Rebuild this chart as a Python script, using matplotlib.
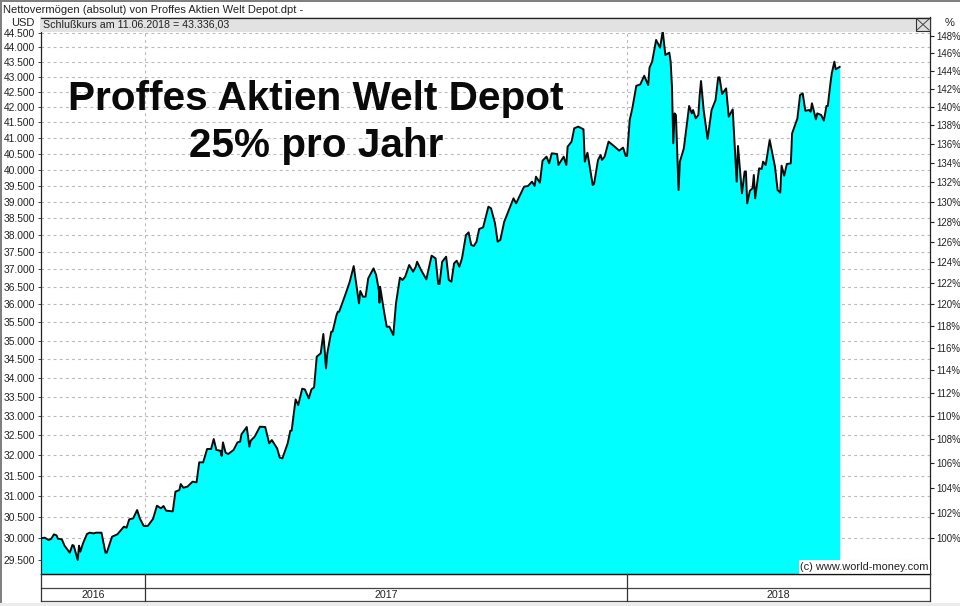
import matplotlib
matplotlib.use("Agg")
import matplotlib.pyplot as plt
from matplotlib.patches import Rectangle
from matplotlib.ticker import FixedLocator, NullLocator, FixedFormatter

plt.rcParams['font.family'] = ['Liberation Sans', 'DejaVu Sans']

# days relative to 1 Jan 2017
days = [-79,-76,-73,-71,-69,-67,-66,-63,-61,-57,-55,-54,-51,-50,-49,-47,-44,-42,-39,-37,-33,-30,-29,-25,-21,-16,-14,-12,-9,-6,-4,-1,
        2,6,9,12,14,16,21,23,26,27,29,32,36,39,41,44,47,50,52,54,57,58,59,61,63,67,70,72,73,77,79,80,83,87,91,94,96,100,102,104,108,110,111,114,116,119,121,124,126,128,
        130,133,135,136,137,138,141,142,145,146,147,152,155,158,162,163,165,167,169,171,173,175,177,177.5,178,181,183,185,188,190,193,195,197,
        200,203,205,206,209,213,217,220,222,223,225,228,230,232,234,236,238,240,243,245,247,249,251,253,256,260,262,265,267,269,272,279,281,287,290,293,295,296,299,
        301,304,306,308,312,313,317,319,320,323,325,328,332,333,335,339,340,343,345,346,348,351,355,359,362,364,
        365,367,369,372,375,378,381,382,384,387,390,392,394,397,398,399,400,401,402,404,405,408,412,414,415,417,419,420,421,423,426,429,432,434,435,437,440,442,445,448,449,452,454,455,456,458,460,461,462,465,467,468,470,473,477,479,481,482,484,486,489,490,494,496,498,500,503,504,505,508,509,512,514,516,517,519,520,522,523,526]
usd = [29992,30008,29953,29984,30086,30062,29984,29969,29821,29658,29837,29821,29489,29821,29682,29875,30094,30125,30109,30125,30125,29658,29658,30031,30086,30267,30242,30440,30464,30663,30464,30282,
       30282,30448,30767,30703,30759,30647,30631,31105,31145,31291,31202,31226,31349,31332,31826,31826,32159,32159,32410,32134,32117,31984,32326,32066,32033,32134,32326,32343,32529,32716,32217,32368,32470,32724,32716,32301,32385,32175,31942,31925,32301,32622,32622,33429,33282,33709,33691,33456,33691,33745,
       34562,34652,35180,34743,34248,34652,35245,35245,35705,35798,35798,36313,36645,37096,36032,36381,36220,36220,36741,36885,37029,36837,36410,36051,36503,35798,35381,35381,35151,36032,36761,36694,36790,
       37127,36934,37077,37222,36981,36713,37398,37320,36580,36580,37222,37369,36694,36645,37174,37251,37077,37320,38006,38085,37711,37682,37809,38184,38234,38856,38805,38354,37809,37859,38404,39110,38957,39468,39489,39623,39489,39778,39592,
       40278,40404,40194,40509,40488,40142,40404,40142,40721,40880,41308,41362,41276,40247,40528,39519,39550,40299,40456,40299,40404,40880,40742,40594,40689,40425,
       40425,41576,41957,42702,42747,43038,42725,43311,43515,44258,43993,44570,43742,43821,43515,42669,40827,41793,41739,39365,40247,40667,42034,41793,41901,41630,41739,42396,42862,41901,40965,41901,42230,42984,42984,42429,42616,41685,41924,39623,40742,39263,39934,39934,38957,39344,39416,39830,39110,40038,40017,40247,40142,40933,40090,39365,39283,40121,39809,40173,40194,41147,41630,42396,42451,41879,41901,41847,42122,41598,41793,41739,41555,42034,42034,42780,43115,43515,43255,43336]

usd_ticks = [29500,30000,30500,31000,31500,32000,32500,33000,33500,34000,34500,35000,35500,36000,36500,37000,37500,38000,38500,39000,39500,40000,40500,41000,41500,42000,42500,43000,43500,44000,44500]
usd_labels = ["29.500","30.000","30.500","31.000","31.500","32.000","32.500","33.000","33.500","34.000","34.500","35.000","35.500","36.000","36.500","37.000","37.500","38.000","38.500","39.000","39.500","40.000","40.500","41.000","41.500","42.000","42.500","43.000","43.500","44.000","44.500"]
pct_ticks = [100,102,104,106,108,110,112,114,116,118,120,122,124,126,128,130,132,134,136,138,140,142,144,146,148]
pct_labels = ["100%","102%","104%","106%","108%","110%","112%","114%","116%","118%","120%","122%","124%","126%","128%","130%","132%","134%","136%","138%","140%","142%","144%","146%","148%"]
year_breaks = [0, 365]
years = ["2016", "2017", "2018"]
base_usd = 30000
close_label = "Schlußkurs am 11.06.2018 = 43.336,03"
top_label = "Nettovermögen (absolut) von Proffes Aktien Welt Depot.dpt -"

W, H = 960, 606
fig = plt.figure(figsize=(W/100, H/100), dpi=100, facecolor='white')

def rect(l, t, r, b):
    return [l/W, 1-b/H, (r-l)/W, (b-t)/H]

ax = fig.add_axes(rect(41, 17, 930, 574), zorder=1)
ax.set_yscale('log')
ax.set_xlim(-78.8, 594.4)
y0, y1 = 29169, 45058
ax.set_ylim(y0, y1)
ax.fill_between(days, usd, y0, color='#00ffff', lw=0, zorder=2)
ax.plot(days, usd, color='#0a0a0a', lw=1.4, zorder=3, solid_joinstyle='round')
ax.yaxis.set_major_locator(FixedLocator(usd_ticks))
ax.yaxis.set_major_formatter(FixedFormatter(usd_labels))
ax.yaxis.set_minor_locator(NullLocator())
ax.xaxis.set_major_locator(FixedLocator(year_breaks))
ax.xaxis.set_ticklabels([])
ax.tick_params(axis='x', length=0)
ax.tick_params(axis='y', which='major', length=2, width=0.7, pad=2.5, labelsize=7.4, labelcolor='#222222', color='#444444')
ax.grid(True, axis='both', color='#b8b8c0', lw=0.8, dashes=(2.5, 3), zorder=1)
ax.set_axisbelow(True)
for s in ax.spines.values():
    s.set_linewidth(0.9)
    s.set_color('#222222')
ax.spines['top'].set_visible(False)

axr = ax.twinx()
axr.set_yscale('log')
axr.set_ylim(y0/base_usd*100, y1/base_usd*100)
axr.yaxis.set_major_locator(FixedLocator(pct_ticks))
axr.yaxis.set_major_formatter(FixedFormatter(pct_labels))
axr.yaxis.set_minor_locator(NullLocator())
axr.tick_params(axis='y', which='major', length=3, width=0.8, pad=1.2, labelsize=6.9, labelcolor='#222222', color='#222222')
for s in axr.spines.values():
    s.set_visible(False)

# window chrome, in figure pixels
ov = fig.add_axes([0, 0, 1, 1], zorder=5)
ov.set_xlim(0, W); ov.set_ylim(H, 0); ov.axis('off')
ov.add_patch(Rectangle((0, 0), W, 2, color='#808080', lw=0))
ov.add_patch(Rectangle((0, 0), 2, 603, color='#808080', lw=0))
ov.add_patch(Rectangle((0, 603), W, 3, color='#ececec', lw=0))
ov.add_patch(Rectangle((41, 17), 889, 14.5, facecolor='#e2e2e2', edgecolor='none'))
ov.plot([41, 930], [17.5, 17.5], color='#222222', lw=0.9)
ov.add_patch(Rectangle((916, 18), 14, 12.5, facecolor='#dddddd', edgecolor='#333333', lw=0.8))
ov.plot([917, 929], [19, 30], color='#444444', lw=0.7)
ov.plot([917, 929], [30, 19], color='#444444', lw=0.7)

ov.text(3, 10, top_label, fontsize=8.0, va='center', ha='left', color='#222222')
ov.text(43, 24.5, close_label, fontsize=7.65, va='center', ha='left', color='#222222')
ov.text(35, 23.5, "USD", fontsize=8, va='center', ha='right', color='#222222')
ov.text(945, 23.5, "%", fontsize=8, va='center', ha='left', color='#222222')

ov.text(316, 99.5, "Proffes Aktien Welt Depot", fontsize=29.2, fontweight='bold', ha='center', va='center', color='#0a0a0a')
ov.text(316, 146, "25% pro Jahr", fontsize=29.2, fontweight='bold', ha='center', va='center', color='#0a0a0a')

ov.add_patch(Rectangle((799, 560), 131, 14, facecolor='white', edgecolor='none'))
ov.text(929, 567, "(c) www.world-money.com", fontsize=7.95, ha='right', va='center', color='#222222')

# year bar
for yy, c in ((574, '#111111'), (588, '#444444'), (601, '#444444')):
    ov.plot([41, 930], [yy, yy], color=c, lw=0.9)
for xx in (41, 930):
    ov.plot([xx, xx], [574, 601], color='#333333', lw=0.9)
bx0 = ax.transData.transform((year_breaks[0], y0))[0]
bx1 = ax.transData.transform((year_breaks[1], y0))[0]
for xx in (bx0, bx1):
    ov.plot([xx, xx], [574, 601], color='#333333', lw=0.9)
for xc, lab in zip(((41+bx0)/2, (bx0+bx1)/2, (bx1+930)/2), years):
    ov.text(xc, 594.5, lab, fontsize=7.7, ha='center', va='center', color='#222222')

fig.savefig('out.png', dpi=100, facecolor='white')
